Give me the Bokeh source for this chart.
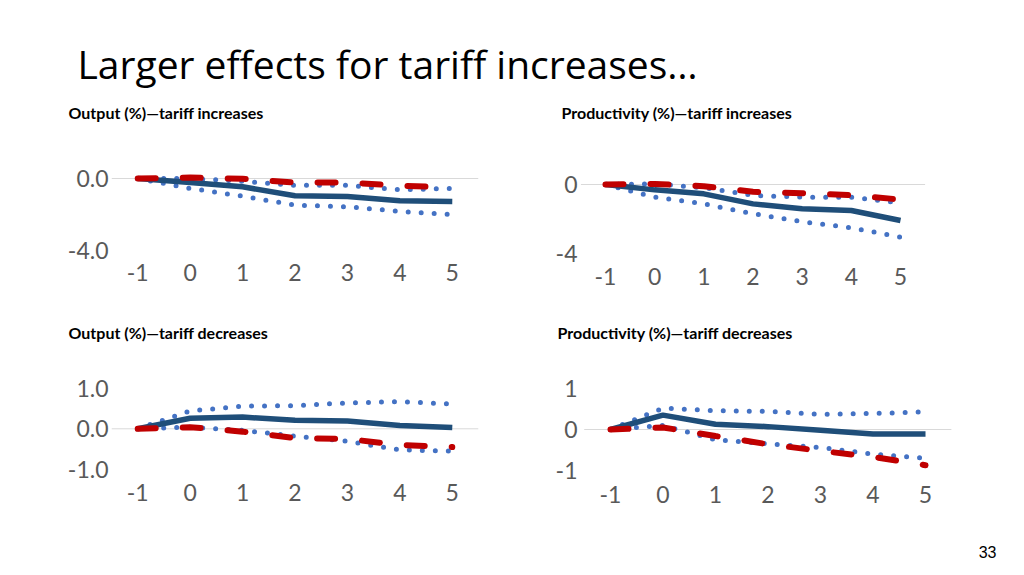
from bokeh.plotting import figure
from bokeh.layouts import column, row
from bokeh.models import FixedTicker, PrintfTickFormatter, Label
from bokeh.embed import file_html
from bokeh.resources import INLINE

# ---------------- data ----------------
years = [-1, 0, 1, 2, 3, 4, 5]
year_labels = ["-1", "0", "1", "2", "3", "4", "5"]

main_title = "Larger effects for tariff increases\u2026"
page_number = "33"
titles = ["Output (%)\u2014tariff increases", "Productivity (%)\u2014tariff increases",
          "Output (%)\u2014tariff decreases", "Productivity (%)\u2014tariff decreases"]

# Output (%) - tariff increases
out_inc_est = [0.0, -0.22, -0.46, -0.96, -1.00, -1.24, -1.28]
out_inc_hi = [0.0, 0.0, -0.15, -0.38, -0.38, -0.63, -0.55]
out_inc_lo = [0.0, -0.55, -0.98, -1.48, -1.57, -1.83, -2.00]
out_inc_alt = [0.0, 0.05, -0.02, -0.23, -0.22, -0.40, -0.50]

# Productivity (%) - tariff increases
prod_inc_est = [0.0, -0.31, -0.54, -1.12, -1.40, -1.50, -2.08]
prod_inc_hi = [0.0, 0.04, -0.19, -0.63, -0.73, -0.73, -1.06]
prod_inc_lo = [0.0, -0.73, -1.12, -1.69, -2.15, -2.50, -3.04]
prod_inc_alt = [0.0, 0.03, -0.10, -0.42, -0.50, -0.62, -0.87]

# Output (%) - tariff decreases
out_dec_est = [0.0, 0.26, 0.29, 0.21, 0.19, 0.08, 0.03]
out_dec_hi = [0.0, 0.44, 0.56, 0.57, 0.64, 0.67, 0.61]
out_dec_lo = [0.0, 0.04, -0.04, -0.18, -0.31, -0.52, -0.55]
out_dec_alt = [0.0, 0.04, -0.07, -0.23, -0.25, -0.40, -0.45]

# Productivity (%) - tariff decreases
prod_dec_est = [0.0, 0.35, 0.13, 0.07, -0.02, -0.11, -0.11]
prod_dec_hi = [0.0, 0.52, 0.46, 0.44, 0.37, 0.39, 0.43]
prod_dec_lo = [0.0, 0.10, -0.25, -0.35, -0.44, -0.60, -0.70]
prod_dec_alt = [0.0, 0.05, -0.16, -0.36, -0.52, -0.67, -0.87]

# ---------------- style ----------------
NAVY = "#1F4E79"
DOTBLUE = "#4472C4"
RED = "#C00000"
TICK_COLOR = "#595959"
TICK_FONT = "Lato"
TICK_SIZE = "23px"
TITLE_FONT = "Lato"
TITLE_SIZE = "16px"

PAGE_W = 1016
COL1_W = 520
COL2_W = PAGE_W - COL1_W


def make_panel(est, hi, lo, alt, W, H, frame, xr, yr, yticks, yfmt, xstand):
    fl, fr, ft, fb = frame
    p = figure(width=W, height=H, x_range=xr, y_range=yr,
               output_backend="svg", toolbar_location=None,
               min_border_left=fl, min_border_right=W - fr,
               min_border_top=ft, min_border_bottom=H - fb)
    p.outline_line_color = None
    p.xgrid.visible = False
    p.ygrid.visible = False
    p.background_fill_color = "white"
    p.border_fill_color = "white"

    for ax in (p.xaxis[0], p.yaxis[0]):
        ax.axis_line_color = None
        ax.major_tick_line_color = None
        ax.minor_tick_line_color = None
        ax.major_tick_out = 0
        ax.major_tick_in = 0
        ax.minor_tick_out = 0
        ax.minor_tick_in = 0
        ax.major_label_text_font = TICK_FONT
        ax.major_label_text_font_size = TICK_SIZE
        ax.major_label_text_color = TICK_COLOR
    p.xaxis.ticker = FixedTicker(ticks=years)
    p.xaxis.major_label_overrides = {y: s for y, s in zip(years, year_labels)}
    p.xaxis.major_label_standoff = xstand
    p.yaxis.ticker = FixedTicker(ticks=yticks)
    p.yaxis.formatter = PrintfTickFormatter(format=yfmt)
    p.yaxis.major_label_standoff = 3

    # horizontal category axis line crossing at zero (spans the category band)
    p.segment(x0=[years[0] - 0.5], y0=[0], x1=[years[-1] + 0.5], y1=[0],
              line_color="#D9D9D9", line_width=1)

    p.line(years, hi, line_color=DOTBLUE, line_width=5, line_dash="0 13", line_cap="round")
    p.line(years, lo, line_color=DOTBLUE, line_width=5, line_dash="0 13", line_cap="round")
    p.line(years, est, line_color=NAVY, line_width=5.5, line_join="round")
    p.line(years, alt, line_color=RED, line_width=6, line_dash="18 27", line_cap="round")
    return p


def strip(h):
    s = figure(width=PAGE_W, height=h, x_range=(0, PAGE_W), y_range=(0, h),
               output_backend="svg", toolbar_location=None, min_border=0,
               x_axis_location=None, y_axis_location=None)
    s.outline_line_color = None
    s.grid.visible = False
    return s


# --- header strip: slide title + titles of the upper charts ---
H0 = 130
header = strip(H0)
header.add_layout(Label(x=77, y=H0 - 63, text=main_title, text_font="Open Sans",
                        text_font_size="39px", text_color="#000000", text_baseline="middle"))
header.add_layout(Label(x=68, y=H0 - 112, text=titles[0], text_font=TITLE_FONT,
                        text_font_size=TITLE_SIZE, text_font_style="bold",
                        text_color="#000000", text_baseline="middle"))
header.add_layout(Label(x=561, y=H0 - 112, text=titles[1], text_font=TITLE_FONT,
                        text_font_size=TITLE_SIZE, text_font_style="bold",
                        text_color="#000000", text_baseline="middle"))

# --- upper row (screen y 130..300) ---
H1 = 170
TOP1 = 130
fr1 = (111, 478, 150 - TOP1, 255 - TOP1)          # frame: left, right, top, bottom (px)
fr2 = (580 - COL1_W, 951 - COL1_W, 150 - TOP1, 255 - TOP1)

p1 = make_panel(out_inc_est, out_inc_hi, out_inc_lo, out_inc_alt, COL1_W, H1, fr1,
                (-1.5, 5.5), (-4.278, 1.556), [-4, 0], "%.1f", 8)
p2 = make_panel(prod_inc_est, prod_inc_hi, prod_inc_lo, prod_inc_alt, COL2_W, H1, fr2,
                (-1.508, 6.037), (-4.104, 1.965), [-4, 0], "%d", 12)

# --- middle strip: titles of the lower charts (screen y 300..350) ---
H2 = 50
mid = strip(H2)
mid.add_layout(Label(x=68, y=H2 - 32, text=titles[2], text_font=TITLE_FONT,
                     text_font_size=TITLE_SIZE, text_font_style="bold",
                     text_color="#000000", text_baseline="middle"))
mid.add_layout(Label(x=557, y=H2 - 32, text=titles[3], text_font=TITLE_FONT,
                     text_font_size=TITLE_SIZE, text_font_style="bold",
                     text_color="#000000", text_baseline="middle"))

# --- lower row (screen y 350..535) ---
H3 = 185
TOP3 = 350
fr3 = (111, 478, 375 - TOP3, 478 - TOP3)
fr4 = (580 - COL1_W, 951 - COL1_W, 375 - TOP3, 478 - TOP3)

p3 = make_panel(out_dec_est, out_dec_hi, out_dec_lo, out_dec_alt, COL1_W, H3, fr3,
                (-1.5, 5.5), (-1.227, 1.316), [-1, 0, 1], "%.1f", 5)
p4 = make_panel(prod_dec_est, prod_dec_hi, prod_dec_lo, prod_dec_alt, COL2_W, H3, fr4,
                (-1.571, 5.495), (-1.195, 1.317), [-1, 0, 1], "%d", 7)

# --- footer with page number (screen y 535..572) ---
H4 = 37
footer = strip(H4)
footer.add_layout(Label(x=996, y=H4 - 16, text=page_number, text_font="Liberation Sans",
                        text_font_size="16px", text_color="#000000",
                        text_align="right", text_baseline="middle"))

layout = column(header, row(p1, p2), mid, row(p3, p4), footer)

open("out.html", "w").write(file_html(layout, INLINE))
